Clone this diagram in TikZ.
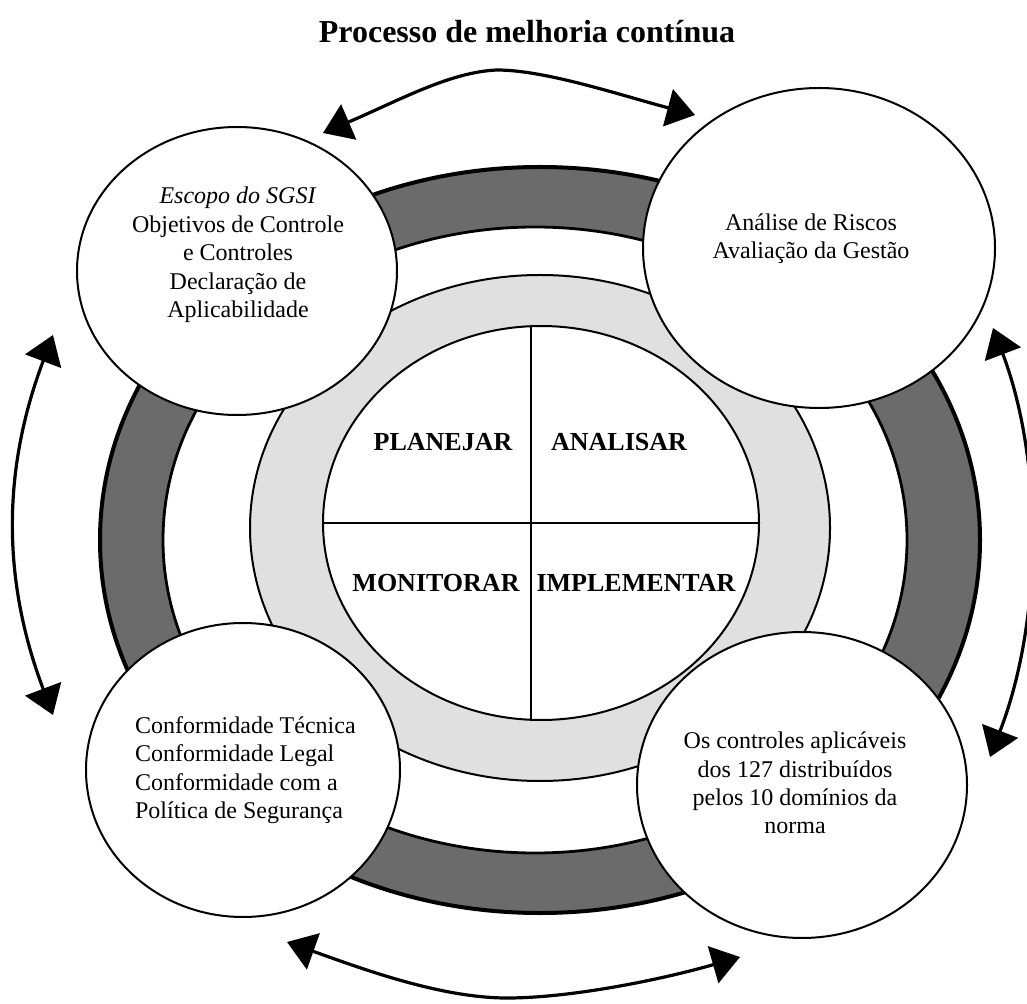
\documentclass[tikz,border=0pt]{standalone}
\usepackage{fontspec}
\setmainfont{Liberation Serif}
\usetikzlibrary{positioning}
\usetikzlibrary{shapes.geometric}
\usetikzlibrary{arrows.meta}

\tikzset{
  darkband/.style={fill=black!58, draw=black, line width=2pt},
  gapband/.style={fill=white, draw=black, line width=1.4pt},
  lightband/.style={fill=black!12, draw=black, line width=1pt},
  hub/.style={ellipse, draw, fill=white, line width=1pt, inner sep=0pt, minimum width=218pt, minimum height=197pt},
  bubble/.style={ellipse, draw, fill=white, line width=1pt, inner sep=0pt},
  bubbletext/.style={align=center, font=\fontsize{12}{14.2}\selectfont},
  phase/.style={font=\bfseries\fontsize{13}{15}\selectfont},
  cyclearrow/.style={{Triangle[length=14pt,width=19pt]}-{Triangle[length=14pt,width=19pt]}, line width=1.6pt},
}

\begin{document}
\begin{tikzpicture}[x=0.5pt, y=-0.5pt]
  \useasboundingbox (0,0) rectangle (1027,1004);

  % Aneis
  \path[darkband] (540,540) ellipse [x radius=220pt, y radius=186.5pt];
  \path[gapband] (535,540) ellipse [x radius=186pt, y radius=156.5pt];
  \path[lightband] (540,528) ellipse [x radius=145pt, y radius=126.5pt];
  \node[hub] (hub) at (541,523) {};
  \draw[line width=1pt] (hub.93) -- (hub.267);
  \draw[line width=1pt] (hub.west) -- (hub.east);

  % Circulos
  \node[bubble, minimum width=160pt, minimum height=144pt] (scope) at (237,271) {};
  \node[bubble, minimum width=176pt, minimum height=160pt] (risk) at (819,248) {};
  \node[bubble, minimum width=157pt, minimum height=147pt] (conform) at (243,770) {};
  \node[bubble, minimum width=165pt, minimum height=153pt] (ctrl) at (802,785) {};

  % Textos
  \node[bubbletext] (scopetxt) at (238,255) {\textit{Escopo do SGSI}\\Objetivos de Controle\\e Controles\\Declaração de\\Aplicabilidade};
  \node[bubbletext] (risktxt) at (811,239) {Análise de Riscos\\Avaliação da Gestão};
  \node[bubbletext, align=left, anchor=west] (conformtxt) at (128,770) {Conformidade Técnica\\Conformidade Legal\\Conformidade com a\\Política de Segurança};
  \node[bubbletext] (ctrltxt) at (795,783) {Os controles aplicáveis\\dos 127 distribuídos\\pelos 10 domínios da\\norma};

  \node[phase] (plan) at (443,442) {PLANEJAR};
  \node[phase] (analyse) at (619,442) {ANALISAR};
  \node[phase] (monitor) at (436,583) {MONITORAR};
  \node[phase] (impl) at (636,583) {IMPLEMENTAR};

  \node[font=\bfseries\fontsize{16}{19}\selectfont] (title) at (527,32) {Processo de melhoria contínua};

  % Setas
  \coordinate (topL) at (323,133);
  \coordinate (topR) at (695,115);
  \coordinate (leftT) at (53,335);
  \coordinate (leftB) at (53,715);
  \coordinate (rightT) at (993,328);
  \coordinate (rightB) at (990,757);
  \coordinate (botL) at (287,942);
  \coordinate (botR) at (740,957);
  \draw[cyclearrow] (topL) .. controls (400,100) and (450,72) .. (497,70) .. controls (545,70) and (620,95) .. (topR);
  \draw[cyclearrow] (leftT) .. controls (2,470) and (2,580) .. (leftB);
  \draw[cyclearrow] (rightT) .. controls (1043,460) and (1043,620) .. (rightB);
  \draw[cyclearrow] (botL) .. controls (360,968) and (440,998) .. (507,998) .. controls (570,998) and (660,980) .. (botR);
\end{tikzpicture}
\end{document}
